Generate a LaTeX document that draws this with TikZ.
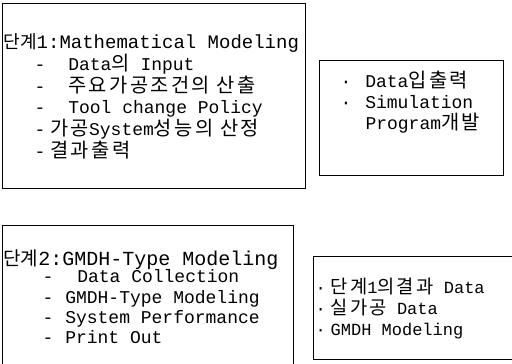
\documentclass[tikz,border=0pt]{standalone}
\usepackage{fontspec}
\setmainfont{Liberation Mono}
\newfontfamily\kr[Scale=1.1,LetterSpace=12]{Noto Sans CJK KR}
\newfontfamily\krhead[Scale=0.95]{Noto Sans CJK KR}

\begin{document}
\begin{tikzpicture}[x=1pt, y=-1pt, line width=1pt,
    head/.style={anchor=base west, inner sep=0pt, font=\fontsize{19}{21}\selectfont},
    item/.style={anchor=base west, inner sep=0pt, font=\fontsize{18}{21}\selectfont},
    note/.style={anchor=base west, inner sep=0pt, font=\fontsize{17}{20}\selectfont}]
    \useasboundingbox (0,0) rectangle (512,364);
    % frames
    \draw (2,3) rectangle (305,188);
    \draw (319,60) rectangle (503,175);
    \draw (2,370) -- (2,225) -- (293,225) -- (293,370);
    \draw (520,256) -- (313,256) -- (313,359) -- (520,359);
    % stage 1
    \node[head] (s1) at (3,48) {{\krhead 단계}1:Mathematical Modeling};
    \node[item] (s1a) at (34,70) {-\hspace{23pt}Data{\kr 의} Input};
    \node[item] (s1b) at (34,92) {-\hspace{23pt}{\kr 주요가공조건의 산출}};
    \node[item] (s1c) at (34,113) {-\hspace{23pt}Tool change Policy};
    \node[item] (s1d) at (34,135) {-\hspace{5pt}{\kr 가공}System{\kr 성능의 산정}};
    \node[item] (s1e) at (34,157) {-\hspace{5pt}{\kr 결과출력}};
    \node[item] (t1a) at (340,87) {·\hspace{14pt}Data{\kr 입출력}};
    \node[item] (t1b) at (340,108) {·\hspace{14pt}Simulation};
    \node[item] (t1c) at (365,129) {Program{\kr 개발}};
    % stage 2
    \node[head, font=\fontsize{20}{22}\selectfont] (s2) at (3,265) {{\krhead 단계}2:GMDH-Type Modeling};
    \node[item] (s2a) at (42,282) {-\hspace{24pt}Data Collection};
    \node[item] (s2b) at (42,303) {-\hspace{12pt}GMDH-Type Modeling};
    \node[item] (s2c) at (42,323) {-\hspace{12pt}System Performance};
    \node[item] (s2d) at (42,343) {-\hspace{12pt}Print Out};
    \node[note] (t2a) at (315,293) {·\hspace{5pt}{\kr 단계}1{\kr 의결과} Data};
    \node[note] (t2b) at (315,314) {·\hspace{5pt}{\kr 실가공} Data};
    \node[note] (t2c) at (315,335) {·\hspace{5pt}GMDH Modeling};
\end{tikzpicture}
\end{document}
